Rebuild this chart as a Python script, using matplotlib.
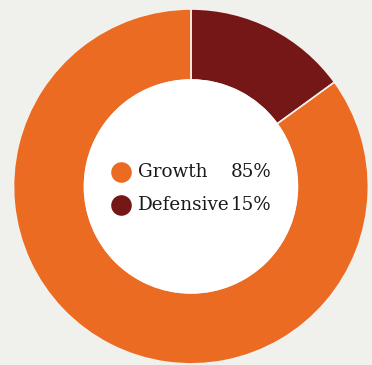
import matplotlib
matplotlib.use("Agg")
import matplotlib.pyplot as plt

# data
labels = ["Growth", "Defensive"]
shares = [85, 15]
colors = ["#ec6b22", "#751716"]

bg = "#f0f0ec"

fig = plt.figure(figsize=(3.72, 3.65), dpi=100)
fig.patch.set_facecolor(bg)
ax = fig.add_axes([0.0363, 0.0027, 0.954, 0.973])
ax.set_facecolor(bg)

# donut, Defensive starts at 12 o'clock going clockwise
ax.pie(shares[::-1], colors=colors[::-1], startangle=90, counterclock=False,
       radius=1, wedgeprops=dict(width=0.4, edgecolor="#f3f1ee", linewidth=1.2))
ax.add_patch(plt.Circle((0, 0), 0.6, color="white", zorder=3))

# legend in the hole
ys = [0.082, -0.104]
for lab, val, col, y in zip(labels, shares, colors, ys):
    ax.scatter([-0.394], [y], s=220, color=col, zorder=4, linewidths=0)
    ax.text(-0.30, y, lab, family="DejaVu Serif", fontsize=13.2, color="#1a1a1a",
            ha="left", va="center", zorder=5)
    ax.text(0.456, y, f"{val}%", family="DejaVu Serif", fontsize=13.2, color="#1a1a1a",
            ha="right", va="center", zorder=5)

ax.set_xlim(-1, 1)
ax.set_ylim(-1, 1)
ax.set_aspect("equal")
ax.axis("off")

fig.savefig("out.png", dpi=100, facecolor=bg)
